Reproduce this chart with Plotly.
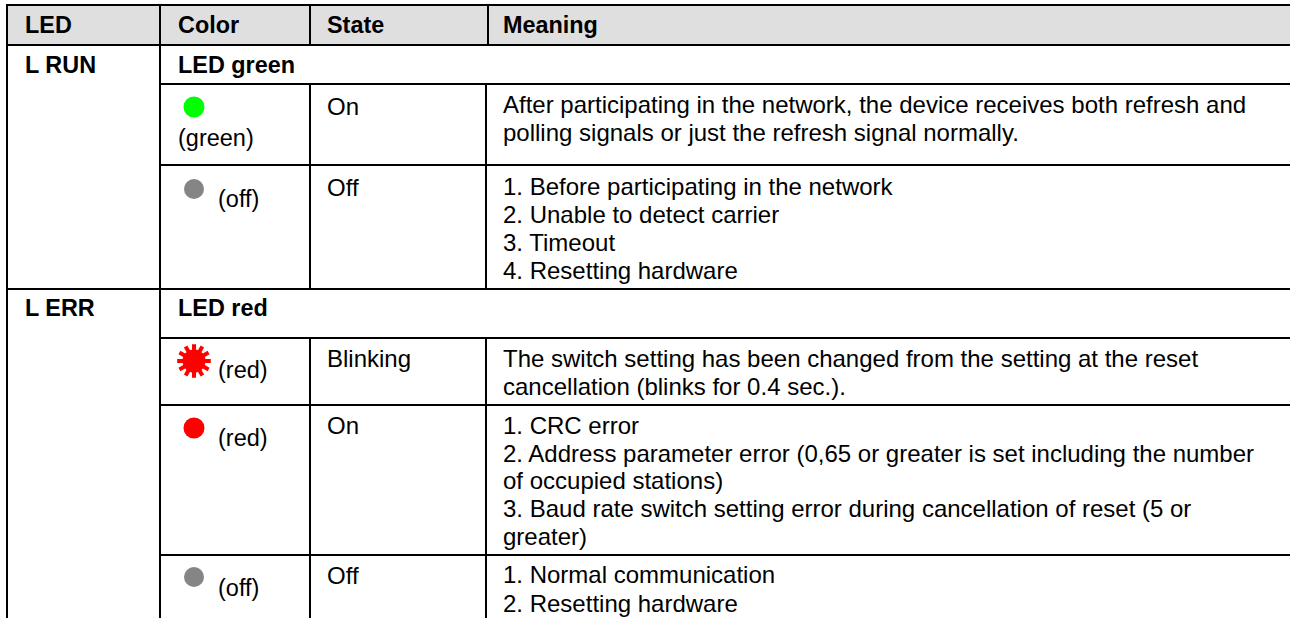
import plotly.graph_objects as go

# ---- table content ----
HEADERS = ["LED", "Color", "State", "Meaning"]
LED_NAMES = ["L RUN", "L ERR"]
GROUP_TITLES = ["LED green", "LED red"]
COLOR_LABELS = ["(green)", "(off)", "(red)", "(red)", "(off)"]
STATES = ["On", "Off", "Blinking", "On", "Off"]
MEANINGS = [
    "After participating in the network, the device receives both refresh and",
    "polling signals or just the refresh signal normally.",
    "1. Before participating in the network",
    "2. Unable to detect carrier",
    "3. Timeout",
    "4. Resetting hardware",
    "The switch setting has been changed from the setting at the reset",
    "cancellation (blinks for 0.4 sec.).",
    "1. CRC error",
    "2. Address parameter error (0,65 or greater is set including the number",
    "of occupied stations)",
    "3. Baud rate switch setting error during cancellation of reset (5 or",
    "greater)",
    "1. Normal communication",
    "2. Resetting hardware",
]
LED_COLORS = ["#00ff00", "#858585", "#ff0000", "#ff0000", "#858585"]

# ---- page geometry (pixels) ----
W, H = 1290, 618
FONT = "Liberation Sans"
FS = 24
FS_LABEL = 23.5
FS_BOLD = 23.4
LW = 2
X_LEFT, X_C1, X_C2, X_HEAD3, X_C3 = 7, 160, 310, 488, 486
Y_TOP, Y_HEAD = 5, 45
Y_ROWS = [84, 165, 289, 338, 405, 555]

HEADER_X = [25, 178, 327, 503]
HEADER_Y = 25
LED_NAME_Y = [65, 308]
GROUP_Y = [65, 308]
COLOR_X = [178, 218, 218, 218, 218]
COLOR_Y = [137.5, 199, 369.5, 437.5, 587.5]
STATE_Y = [106, 187.5, 358.5, 425, 575]
MEANING_Y = [104.5, 132.5, 186.5, 214.5, 242, 270, 358.5, 386.5, 425, 453, 480.5, 508.5, 536, 574.5, 603]
LED_X = [194, 194, 194, 194, 194]
LED_Y = [107, 189, 361, 428, 577]
LED_SIZE = [21, 20, 23, 21, 20]

fig = go.Figure()

# header band
fig.add_shape(type="rect", x0=X_LEFT, x1=W, y0=Y_TOP, y1=Y_HEAD,
              fillcolor="#dfdfdf", line_width=0, layer="below")


def rule(x0, y0, x1, y1):
    fig.add_shape(type="line", x0=x0, y0=y0, x1=x1, y1=y1,
                  line=dict(color="#000000", width=LW))


rule(X_LEFT - 1, Y_TOP, W, Y_TOP)
rule(X_LEFT, Y_HEAD, W, Y_HEAD)
rule(X_LEFT, Y_TOP, X_LEFT, H)
rule(X_C1, Y_TOP, X_C1, H)
rule(X_C2, Y_TOP, X_C2, Y_HEAD)
rule(X_HEAD3, Y_TOP, X_HEAD3, Y_HEAD)
rule(X_C1, Y_ROWS[0], W, Y_ROWS[0])
rule(X_C1, Y_ROWS[1], W, Y_ROWS[1])
rule(X_LEFT, Y_ROWS[2], W, Y_ROWS[2])
rule(X_C1, Y_ROWS[3], W, Y_ROWS[3])
rule(X_C1, Y_ROWS[4], W, Y_ROWS[4])
rule(X_C1, Y_ROWS[5], W, Y_ROWS[5])
rule(X_C2, Y_ROWS[0], X_C2, Y_ROWS[2])
rule(X_C3, Y_ROWS[0], X_C3, Y_ROWS[2])
rule(X_C2, Y_ROWS[3], X_C2, H)
rule(X_C3, Y_ROWS[3], X_C3, H)


def put(text, x, y, size=FS, bold=False):
    fig.add_annotation(x=x, y=y, xref="x", yref="y", text=f"<b>{text}</b>" if bold else text,
                       showarrow=False, xanchor="left", yanchor="middle", borderpad=0, borderwidth=0,
                       font=dict(family=FONT, size=size, color="#000000"))


for text, x in zip(HEADERS, HEADER_X):
    put(text, x, HEADER_Y, FS_BOLD, bold=True)
for text, y in zip(LED_NAMES, LED_NAME_Y):
    put(text, HEADER_X[0], y, FS_BOLD, bold=True)
for text, y in zip(GROUP_TITLES, GROUP_Y):
    put(text, HEADER_X[1], y, FS_BOLD, bold=True)
for text, x, y in zip(COLOR_LABELS, COLOR_X, COLOR_Y):
    put(text, x, y, FS_LABEL)
for text, y in zip(STATES, STATE_Y):
    put(text, HEADER_X[2], y)
for text, y in zip(MEANINGS, MEANING_Y):
    put(text, HEADER_X[3], y)

# LED lamps
fig.add_trace(go.Scatter(x=LED_X, y=LED_Y, mode="markers", hoverinfo="skip",
                         marker=dict(color=LED_COLORS, size=LED_SIZE, opacity=1, line_width=0)))
# rays of the blinking lamp: twelve spokes from three rotated crosses
for angle in (0, 30, 60):
    fig.add_trace(go.Scatter(x=[LED_X[2]], y=[LED_Y[2]], mode="markers", hoverinfo="skip",
                             marker=dict(color=LED_COLORS[2], size=24, symbol="cross-thin-open", angle=angle,
                                         opacity=1, line=dict(color=LED_COLORS[2], width=4))))

fig.update_layout(
    width=W, height=H, autosize=False, showlegend=False,
    margin=dict(l=0, r=0, t=0, b=0), paper_bgcolor="#ffffff", plot_bgcolor="#ffffff",
    xaxis=dict(range=[0, W], visible=False, fixedrange=True),
    yaxis=dict(range=[H, 0], visible=False, fixedrange=True),
)
fig.write_html("out.html", config=dict(displayModeBar=False),
               post_script="document.body.style.margin='0';document.documentElement.style.overflow='hidden';")
